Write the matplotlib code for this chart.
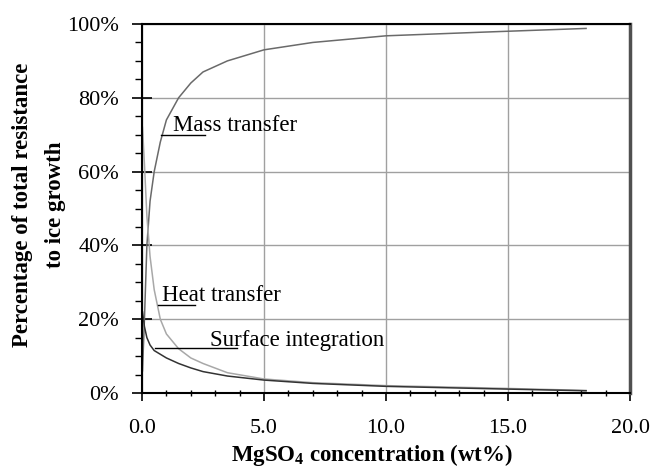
import matplotlib
matplotlib.use("Agg")
import matplotlib.pyplot as plt
from matplotlib.ticker import MultipleLocator, FuncFormatter

plt.rcParams["font.family"] = ["Liberation Serif", "DejaVu Serif"]
plt.rcParams["mathtext.fontset"] = "custom"
plt.rcParams["mathtext.rm"] = "Liberation Serif"
plt.rcParams["mathtext.bf"] = "Liberation Serif:bold"

# MgSO4 concentration (wt%)
conc = [0.02, 0.1, 0.2, 0.33, 0.5, 0.75, 1.0, 1.5, 2.0, 2.5, 3.5, 5.0, 7.0, 10.0, 14.0, 18.2]
# share of total resistance to ice growth (%)
mass_transfer = [6, 20, 40, 52, 60, 68, 74, 80, 84, 87, 90, 93, 95, 96.8, 97.8, 98.8]
heat_transfer = [72, 62, 48, 37, 28, 20, 16, 12, 9.5, 8, 5.5, 3.8, 2.8, 2.0, 1.4, 0.7]
surface_integration = [22, 18, 15, 13, 11.5, 10.5, 9.5, 8, 6.8, 5.8, 4.6, 3.5, 2.6, 1.8, 1.2, 0.6]

fig = plt.figure(figsize=(6.55, 4.68), dpi=100)
ax = fig.add_axes([142 / 655, 1 - 393 / 468, 488 / 655, 369 / 468])

ax.plot(conc, mass_transfer, color="#6a6a6a", lw=1.1)
ax.plot(conc, heat_transfer, color="#a8a8a8", lw=1.1)
ax.plot(conc, surface_integration, color="#333333", lw=1.1)

# labels with leader lines
ax.plot([0.78, 2.6], [70, 70], color="black", lw=1)
ax.text(1.27, 71, "Mass transfer", fontsize=16.5, va="baseline")
ax.plot([0.66, 2.17], [23.8, 23.8], color="black", lw=1)
ax.text(0.82, 24.8, "Heat transfer", fontsize=16.5, va="baseline")
ax.plot([0.53, 3.9], [12.2, 12.2], color="black", lw=1)
ax.text(2.78, 12.8, "Surface integration", fontsize=16.5, va="baseline")

ax.set_xlim(0, 20)
ax.set_ylim(0, 100)
ax.xaxis.set_major_locator(MultipleLocator(5))
ax.xaxis.set_minor_locator(MultipleLocator(1))
ax.yaxis.set_major_locator(MultipleLocator(20))
ax.yaxis.set_minor_locator(MultipleLocator(5))
ax.xaxis.set_major_formatter(FuncFormatter(lambda v, p: f"{v:.1f}"))
ax.yaxis.set_major_formatter(FuncFormatter(lambda v, p: f"{v:.0f}%"))

ax.grid(which="major", color="#a0a0a0", lw=1)
ax.set_axisbelow(True)
ax.tick_params(axis="y", which="major", direction="inout", length=15, width=1.2,
               labelsize=16, pad=9)
ax.tick_params(axis="y", which="minor", direction="out", length=5, width=1)
ax.tick_params(axis="x", which="major", direction="out", length=6, width=1.2,
               labelsize=16, pad=13)
ax.tick_params(axis="x", which="minor", direction="inout", length=5, width=1)

for side in ["left", "bottom", "top"]:
    ax.spines[side].set_color("black")
    ax.spines[side].set_linewidth(1.5)
ax.spines["right"].set_color("#505050")
ax.spines["right"].set_linewidth(2.5)

fig.text(23 / 655, 1 - 205 / 468, "Percentage of total resistance", rotation=90,
         fontsize=16.5, fontweight="bold", ha="center", va="center")
fig.text(55 / 655, 1 - 205 / 468, "to ice growth", rotation=90,
         fontsize=16.5, fontweight="bold", ha="center", va="center")
fig.text(372 / 655, 1 - 455 / 468, r"MgSO$_\mathbf{4}$ concentration (wt%)",
         fontsize=16.5, fontweight="bold", ha="center", va="center")

fig.savefig("out.png", dpi=100)
